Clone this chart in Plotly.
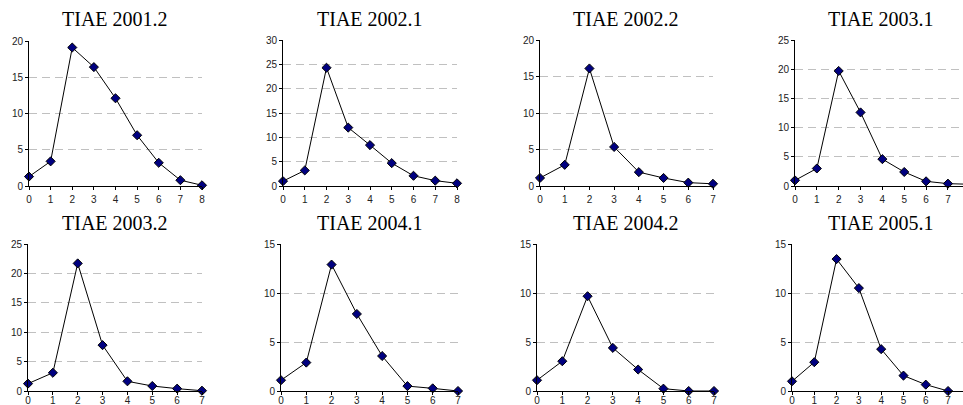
import plotly.graph_objects as go

# ---- data ----
titles = ["TIAE 2001.2", "TIAE 2002.1", "TIAE 2002.2", "TIAE 2003.1",
          "TIAE 2003.2", "TIAE 2004.1", "TIAE 2004.2", "TIAE 2005.1"]

v2001_2 = [1.3, 3.4, 19.1, 16.4, 12.1, 7.0, 3.2, 0.8, 0.1]
v2002_1 = [1.0, 3.2, 24.3, 12.0, 8.4, 4.7, 2.1, 1.1, 0.55]
v2002_2 = [1.1, 2.9, 16.1, 5.35, 1.9, 1.1, 0.46, 0.3]
v2003_1 = [0.97, 3.0, 19.7, 12.6, 4.6, 2.4, 0.8, 0.4, 0.3]
v2003_2 = [1.25, 3.1, 21.7, 7.8, 1.65, 0.85, 0.4, 0.05]
v2004_1 = [1.1, 2.9, 12.9, 7.86, 3.57, 0.5, 0.27, 0.0]
v2004_2 = [1.1, 3.04, 9.67, 4.4, 2.19, 0.24, 0.0, 0.0]
v2005_1 = [0.99, 2.94, 13.46, 10.5, 4.27, 1.57, 0.65, 0.0]

series = [v2001_2, v2002_1, v2002_2, v2003_1, v2003_2, v2004_1, v2004_2, v2005_1]
y_max = [20, 30, 20, 25, 25, 15, 15, 15]

# ---- layout geometry (pixels) ----
W, H = 963, 405
# (x_left, x_right, y_top, y_bottom, x_range_max, x label standoff)
boxes = [
    (29, 202, 41, 186, 8, 1),
    (283, 457, 40, 186, 8, 1),
    (540, 713, 40, 186, 7, 1),
    (795, 963, 40, 186, 7.69, 1),
    (28, 202, 244, 391, 7, -3),
    (281, 458, 244, 391, 7, -3),
    (537, 714, 244, 391, 7, -3),
    (792, 963, 244, 391, 7.67, -3),
]
title_pos = [(115, 19), (370, 19), (626, 19), (881, 19),
             (115, 223), (370, 223), (626, 223), (881, 223)]

fig = go.Figure()
layout = dict(
    width=W, height=H,
    margin=dict(l=0, r=0, t=0, b=0, autoexpand=False),
    paper_bgcolor="white", plot_bgcolor="white",
    showlegend=False,
    annotations=[],
)

tick_font = dict(family="Liberation Sans, Arial, sans-serif", size=10, color="#222222")

for i, (vals, box, ymax) in enumerate(zip(series, boxes, y_max)):
    n = i + 1
    sfx = str(n) if n > 1 else ""
    xl, xr, yt, yb, xmax, standoff = box
    xs = list(range(len(vals)))
    fig.add_trace(go.Scatter(
        x=xs, y=vals, mode="lines+markers",
        xaxis="x" + sfx, yaxis="y" + sfx,
        line=dict(color="black", width=1),
        marker=dict(symbol="diamond", size=7, color="#000080",
                    line=dict(color="black", width=1)),
        cliponaxis=False,
    ))
    layout["xaxis" + sfx] = dict(
        domain=[xl / W, xr / W],
        range=[0, xmax],
        anchor="y" + sfx,
        tickmode="array", tickvals=list(range(0, 9)),
        showgrid=False, zeroline=False,
        showline=True, linecolor="black", linewidth=1,
        ticks="outside", ticklen=3, tickcolor="black",
        ticklabelstandoff=standoff,
        tickfont=tick_font, fixedrange=True,
    )
    layout["yaxis" + sfx] = dict(
        domain=[(H - yb) / H, (H - yt) / H],
        range=[0, ymax],
        anchor="x" + sfx,
        tickmode="linear", tick0=0, dtick=5,
        showgrid=True, gridcolor="#c0c0c0", gridwidth=1, griddash="8px,5px",
        zeroline=False,
        showline=True, linecolor="black", linewidth=1,
        ticks="outside", ticklen=3, tickcolor="black",
        tickfont=tick_font, fixedrange=True,
    )
    tx, ty = title_pos[i]
    layout["annotations"].append(dict(
        text=titles[i], xref="paper", yref="paper",
        x=tx / W, y=(H - ty) / H, xanchor="center", yanchor="middle",
        showarrow=False,
        font=dict(family="Liberation Serif, Times New Roman, serif", size=20, color="black"),
    ))

fig.update_layout(**layout)
fig.write_html("out.html",
               config={"displayModeBar": False, "staticPlot": True},
               post_script="document.body.style.margin='0px';document.body.style.overflow='hidden';")
